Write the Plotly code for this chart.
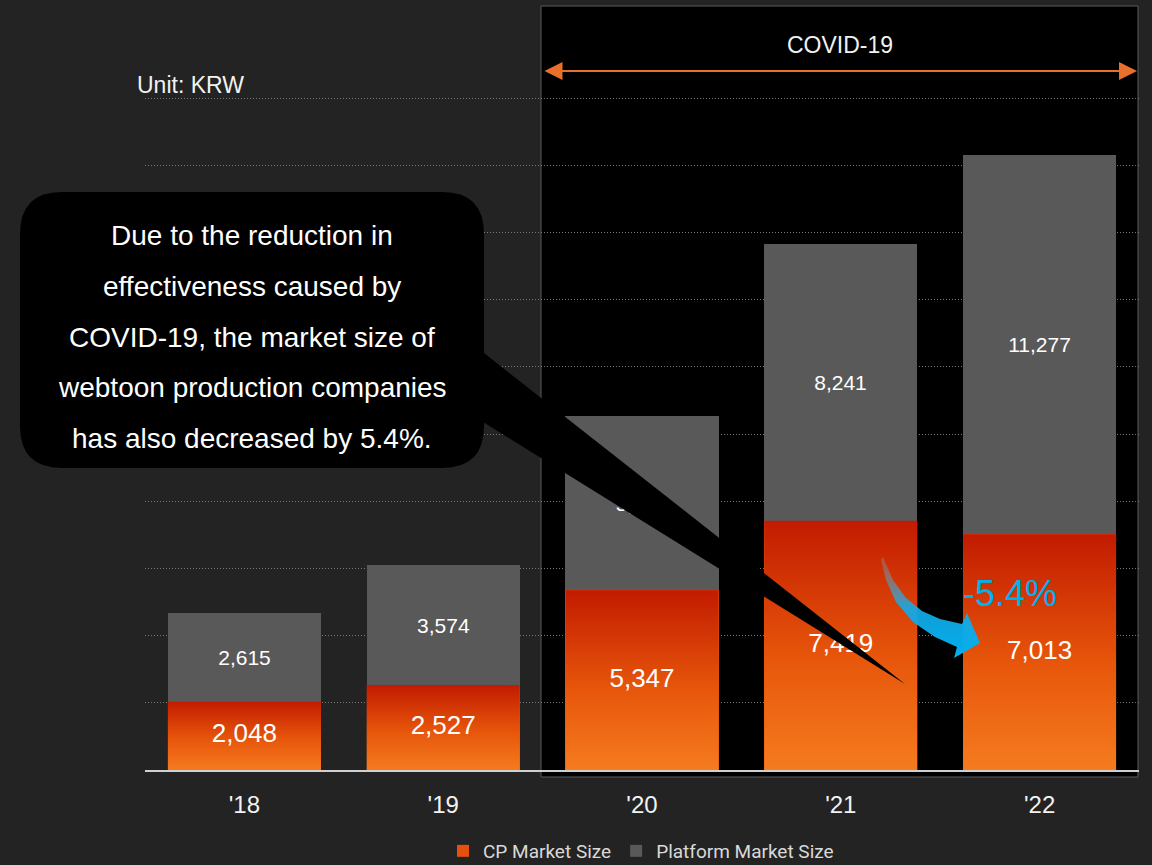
import plotly.graph_objects as go

# ---- data -------------------------------------------------------------
years = ["'18", "'19", "'20", "'21", "'22"]
cp_market = [2048, 2527, 5347, 7419, 7013]             # CP market size
platform_market = [2615, 3574, 5191, 8241, 11277]      # platform market size
grid_values = [2000, 4000, 6000, 8000, 10000, 12000, 14000, 16000, 18000, 20000]

callout_lines = [
    "Due to the reduction in",
    "effectiveness caused by",
    "COVID-19, the market size of",
    "webtoon production companies",
    "has also decreased by 5.4%.",
]
change_label = "-5.4%"
period_label = "COVID-19"
unit_label = "Unit: KRW"

# ---- canvas / style ---------------------------------------------------
W, H = 1152, 865
FONT = "Liberation Sans, Arial, sans-serif"
BG = "#232323"
GRAY_BAR = "#595959"
CP_SOLID = "#e3500f"
CP_SCALE = [[0.0, "#f57b1f"], [0.45, "#e7560b"], [1.0, "#c21b00"]]
CYAN = "#00b0f0"
BAR_W = 0.77

# plot area in canvas pixels
PL, PR, PT, PB = 145, 1139, 6, 770
Y_TOP = 20000 * (PB - PT) / (PB - 98)


def fx(px):
    return px / W


def fy(py):
    return 1 - py / H


idx = list(range(len(years)))

fig = go.Figure()

# stacked bars
fig.add_trace(go.Bar(
    x=idx, y=cp_market, width=BAR_W, name="CP Market Size",
    marker=dict(color=CP_SOLID, line=dict(width=0)),
    hoverinfo="y+name",
))
fig.add_trace(go.Bar(
    x=idx, y=platform_market, width=BAR_W, name="Platform Market Size",
    marker=dict(color=GRAY_BAR, line=dict(width=0)),
    text=[f"{v:,}" for v in platform_market],
    textposition="inside", insidetextanchor="middle", textangle=0,
    textfont=dict(family=FONT, size=21, color="white"),
    hoverinfo="y+name",
))

# vertical red-to-orange gradient over each CP bar
for i, v in zip(idx, cp_market):
    x0, x1 = i - BAR_W / 2, i + BAR_W / 2
    fig.add_trace(go.Scatter(
        x=[x0, x1, x1, x0, x0], y=[0, 0, v, v, 0],
        mode="none", fill="toself",
        fillgradient=dict(type="vertical", colorscale=CP_SCALE),
        showlegend=False, hoverinfo="skip",
    ))

# CP value labels
fig.add_trace(go.Scatter(
    x=idx, y=[v / 2 for v in cp_market], mode="text",
    text=[f"{v:,}" for v in cp_market],
    textfont=dict(family=FONT, size=26, color="white"),
    showlegend=False, hoverinfo="skip",
))

# curved decline arrow drawn on a full-canvas pixel layer
arrow_x = [883, 893, 906, 922, 940, 962, 967, 980, 954, 957, 935, 913, 896, 886, 881, 883]
arrow_y = [557, 580, 598, 611, 619, 624, 613, 643, 658, 647, 637, 622, 602, 580, 560, 557]
fig.add_trace(go.Scatter(
    x=arrow_x, y=arrow_y, xaxis="x2", yaxis="y2",
    mode="none", fill="toself",
    fillgradient=dict(type="vertical", colorscale=[
        [0.0, CYAN], [0.5, "rgba(20,170,230,0.92)"], [1.0, "rgba(150,150,150,0.3)"]]),
    showlegend=False, hoverinfo="skip",
))

shapes = [
    # COVID-19 period panel
    dict(type="rect", xref="paper", yref="paper", layer="below",
         x0=fx(541), x1=fx(1138), y0=fy(777), y1=fy(6),
         fillcolor="black", line=dict(color="#5a5a5a", width=1)),
]

# speech-bubble callout
bx0, bx1, by0, by1, r = 20, 484, 192, 468, 42
pts = [
    ("M", bx0 + r, by0), ("L", bx1 - r, by0), ("Q", bx1, by0, bx1, by0 + r),
    ("L", bx1, by1 - r), ("Q", bx1, by1, bx1 - r, by1),
    ("L", bx0 + r, by1), ("Q", bx0, by1, bx0, by1 - r),
    ("L", bx0, by0 + r), ("Q", bx0, by0, bx0 + r, by0),
]
path = ""
for p in pts:
    cmd, coords = p[0], p[1:]
    pairs = [f"{fx(coords[k]):.5f},{fy(coords[k + 1]):.5f}" for k in range(0, len(coords), 2)]
    path += cmd + " ".join(pairs) + " "
path += "Z"
shapes.append(dict(type="path", xref="paper", yref="paper", layer="above",
                   path=path, fillcolor="black", line=dict(width=0)))
wedge = [(470, 342), (905, 684), (470, 414)]
wpath = "M" + " L".join(f"{fx(a):.5f},{fy(b):.5f}" for a, b in wedge) + " Z"
shapes.append(dict(type="path", xref="paper", yref="paper", layer="above",
                   path=wpath, fillcolor="black", line=dict(width=0)))

annotations = [
    dict(x=fx(135), y=fy(85), xref="paper", yref="paper", text=unit_label,
         showarrow=False, xanchor="left", yanchor="middle",
         font=dict(family=FONT, size=23, color="#f2f2f2")),
    dict(x=fx(840), y=fy(45), xref="paper", yref="paper", text=period_label,
         showarrow=False, xanchor="center", yanchor="middle",
         font=dict(family=FONT, size=23, color="#f2f2f2")),
    # double-headed period arrow
    dict(x=fx(1137), y=fy(71), xref="paper", yref="paper", text="",
         ax=-(1137 - 543), ay=0, axref="pixel", ayref="pixel",
         showarrow=True, arrowside="end+start", arrowhead=2, startarrowhead=2,
         arrowsize=1.8, startarrowsize=1.8, arrowwidth=2, arrowcolor="#e8702a",
         standoff=0, startstandoff=0),
    dict(x=fx(1010), y=fy(593), xref="paper", yref="paper", text=change_label,
         showarrow=False, xanchor="center", yanchor="middle",
         font=dict(family=FONT, size=36, color=CYAN)),
]
for k, line in enumerate(callout_lines):
    annotations.append(dict(
        x=fx(252), y=fy(236 + 50.5 * k), xref="paper", yref="paper", text=line,
        showarrow=False, xanchor="center", yanchor="middle",
        font=dict(family=FONT, size=28, color="white")))

fig.update_layout(
    width=W, height=H,
    margin=dict(l=0, r=0, t=0, b=0, autoexpand=False),
    paper_bgcolor=BG, plot_bgcolor="rgba(0,0,0,0)",
    barmode="stack", bargap=0,
    font=dict(family=FONT, color="#f2f2f2"),
    shapes=shapes, annotations=annotations,
    xaxis=dict(
        domain=[fx(PL), fx(PR)], range=[-0.5, len(years) - 0.5],
        tickvals=idx, ticktext=years, tickfont=dict(family=FONT, size=24, color="#f2f2f2"),
        ticks="outside", ticklen=12, tickcolor="rgba(0,0,0,0)",
        showgrid=False, zeroline=False,
        showline=True, linecolor="#d0d0d0", linewidth=2,
        fixedrange=True, automargin=False,
    ),
    yaxis=dict(
        domain=[fy(PB), fy(PT)], range=[0, Y_TOP],
        tickvals=grid_values, showticklabels=False,
        showgrid=True, gridcolor="#787878", griddash="1px,2px", gridwidth=1,
        zeroline=False, fixedrange=True, automargin=False,
    ),
    xaxis2=dict(domain=[0, 1], range=[0, W], anchor="y2", visible=False, fixedrange=True),
    yaxis2=dict(domain=[0, 1], range=[H, 0], anchor="x2", visible=False, fixedrange=True),
    legend=dict(
        orientation="h", x=fx(443), y=fy(851), xanchor="left", yanchor="middle",
        traceorder="normal", bgcolor="rgba(0,0,0,0)",
        font=dict(family="Roboto, Liberation Sans, sans-serif", size=19, color="#d9d9d9"),
    ),
    showlegend=True,
)

fig.write_html("out.html")
